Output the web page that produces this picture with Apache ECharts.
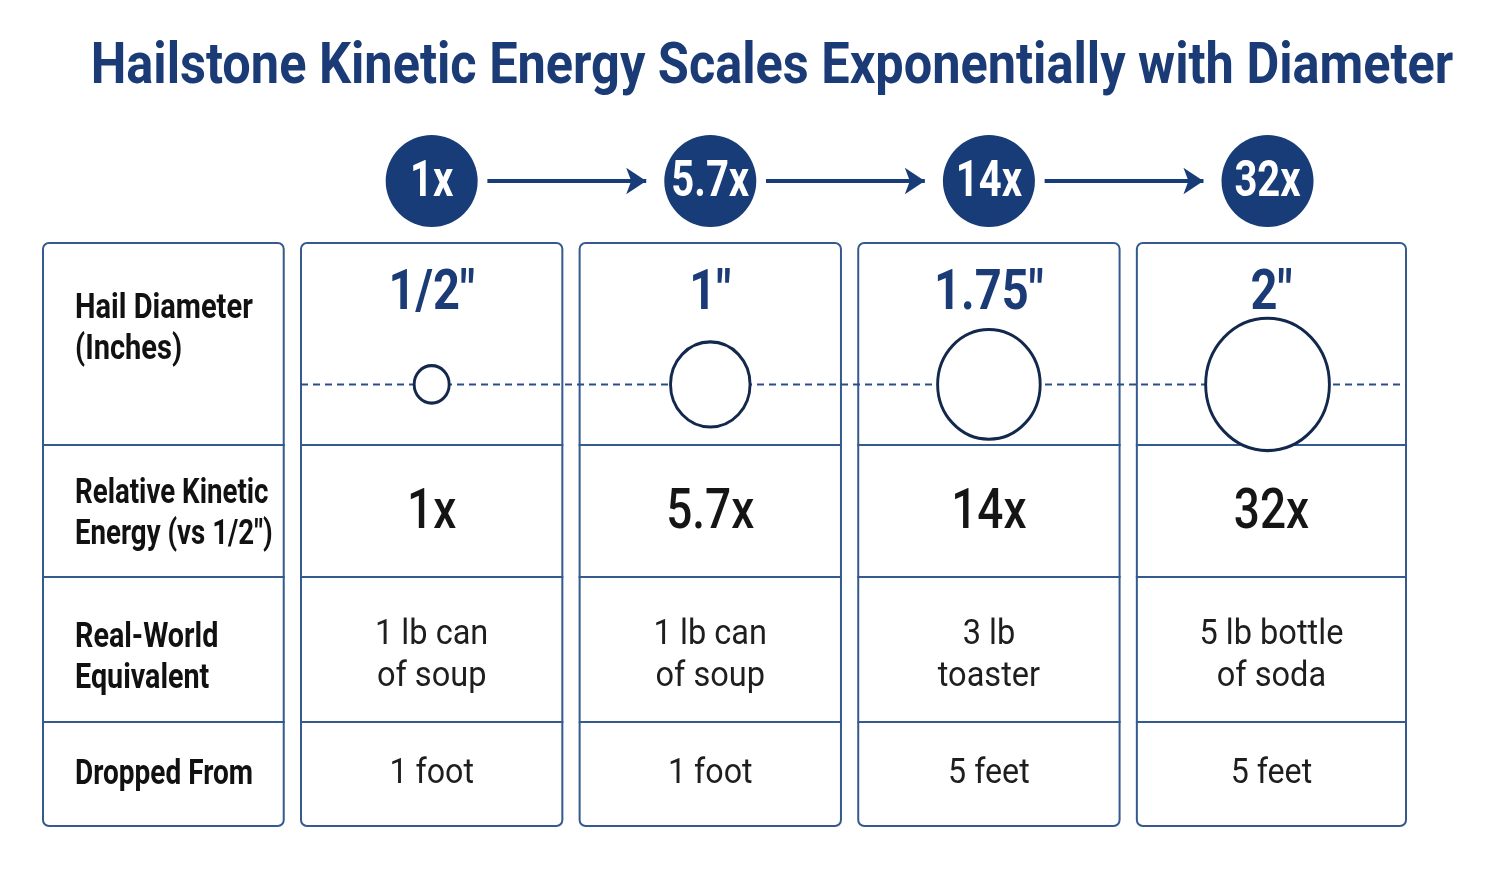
<!DOCTYPE html>
<html>
<head>
<meta charset="utf-8">
<title>Hailstone Kinetic Energy</title>
<script src="https://cdn.jsdelivr.net/npm/echarts@6/dist/echarts.min.js"></script>
<style>
  html, body { margin: 0; padding: 0; background: #fff; }
  #chart { width: 1494px; height: 871px; }
</style>
</head>
<body>
<div id="chart"></div>
<script>
// data
const diameters = [0.5, 1, 1.75, 2]
const diameterLabels = ['1/2″', '1″', '1.75″', '2″']
const energy = [1, 5.7, 14, 32]
const energyLabels = ['1x', '5.7x', '14x', '32x']
const equivalents = ['1 lb can\nof soup', '1 lb can\nof soup', '3 lb\ntoaster', '5 lb bottle\nof soda']
const dropHeights = ['1 foot', '1 foot', '5 feet', '5 feet']
const rowLabels = ['Hail Diameter\n(Inches)', 'Relative Kinetic\nEnergy (vs 1/2″)', 'Real-World\nEquivalent', 'Dropped From']

// layout
const FONT = 'Roboto, "Noto Sans", sans-serif'
const NAVY = '#1b3b76'
const BADGE = '#173c78'
const BORDER = '#345a8e'
const X_RANGE = [-0.395, 4.497]
const HALF_GAP = 0.031
const rowBoxes = [[243, 202], [445, 132], [577, 145], [722, 104]]
const cols = [0, 1, 2, 3, 4]

const grids = [{ left: 43, width: 1363, top: 135, height: 92 }]
rowBoxes.forEach(([top, height]) => grids.push({ left: 43, width: 1363, top, height }))

const xAxes = grids.map((g, i) => ({ type: 'value', gridIndex: i, min: X_RANGE[0], max: X_RANGE[1], show: false }))
const yAxes = grids.map((g, i) => ({ type: 'value', gridIndex: i, min: 0, max: 1, inverse: true, show: false }))

// text squeezed horizontally to mimic the condensed face of the original
const squeezedText = (text, x, y, font, fill, align, lineHeight, sx) => ({
  type: 'text',
  x, y,
  scaleX: sx,
  z2: 5,
  style: {
    text, x: 0, y: 0, font, fill, lineHeight,
    align, verticalAlign: 'middle',
    textAlign: align, textVerticalAlign: 'middle'
  }
})

// each row's cell texts, column 0 is the row label
const rowTexts = [
  [rowLabels[0], ...diameterLabels],
  [rowLabels[1], ...energyLabels],
  [rowLabels[2], ...equivalents],
  [rowLabels[3], ...dropHeights]
]
const valueFont = [
  { font: 'bold 56px ' + FONT, fill: NAVY, y: 0.255, lh: 56, sx: 0.84 },
  { font: '500 56px ' + FONT, fill: '#151515', y: 0.525, lh: 56, sx: 0.82 },
  { font: '35px ' + FONT, fill: '#1e1e1e', y: 0.548, lh: 42, sx: 0.93 },
  { font: '35px ' + FONT, fill: '#1e1e1e', y: 0.5, lh: 42, sx: 0.92 }
]
const labelY = [0.43, 0.53, 0.565, 0.51]
const labelSx = [0.83, 0.79, 0.82, 0.8]

const cellSeries = (row) => ({
  type: 'custom',
  xAxisIndex: row + 1,
  yAxisIndex: row + 1,
  z: 1,
  silent: true,
  data: cols.map(c => [c, 0.5]),
  encode: { x: 0, y: 1 },
  renderItem: (params, api) => {
    const cs = params.coordSys
    const c = api.value(0)
    const left = c === 0 ? cs.x : api.coord([c - 0.5 + HALF_GAP, 0])[0]
    const right = c === 4 ? cs.x + cs.width : api.coord([c + 0.5 - HALF_GAP, 0])[0]
    const r = row === 0 ? [6, 6, 0, 0] : row === 3 ? [0, 0, 6, 6] : 0
    const isLabel = c === 0
    const st = valueFont[row]
    const ty = cs.y + cs.height * (isLabel ? labelY[row] : st.y)
    return {
      type: 'group',
      children: [
        {
          type: 'rect',
          shape: { x: left, y: cs.y, width: right - left, height: cs.height, r },
          style: { fill: '#fff', stroke: BORDER, lineWidth: 2 }
        },
        isLabel
          ? squeezedText(rowTexts[row][c], left + 32, ty, 'bold 35px ' + FONT, '#111', 'left', 41, labelSx[row])
          : squeezedText(rowTexts[row][c], (left + right) / 2, ty, st.font, st.fill, 'center', st.lh, st.sx)
      ]
    }
  }
})

const option = {
  backgroundColor: '#ffffff',
  animation: false,
  graphic: [
    squeezedText('Hailstone Kinetic Energy Scales Exponentially with Diameter', 772, 68,
      'bold 58px ' + FONT, NAVY, 'center', 60, 0.87)
  ],
  grid: grids,
  xAxis: xAxes,
  yAxis: yAxes,
  series: [
    // multiplier badges
    {
      type: 'custom',
      xAxisIndex: 0,
      yAxisIndex: 0,
      z: 3,
      silent: true,
      data: energy.map((e, i) => [i + 1, 0.5]),
      encode: { x: 0, y: 1 },
      renderItem: (params, api) => {
        const [cx, cy] = api.coord([api.value(0), api.value(1)])
        return {
          type: 'group',
          children: [
            { type: 'circle', shape: { cx, cy, r: 46 }, style: { fill: BADGE } },
            squeezedText(energyLabels[params.dataIndex], cx, cy + 2, 'bold 50px ' + FONT, '#fff', 'center', 50, 0.8)
          ]
        }
      }
    },
    {
      type: 'lines',
      coordinateSystem: 'cartesian2d',
      xAxisIndex: 0,
      yAxisIndex: 0,
      z: 2,
      symbol: ['none', 'arrow'],
      symbolSize: 20,
      lineStyle: { color: BADGE, width: 4, opacity: 1 },
      data: energy.slice(1).map((e, i) => ({ coords: [[i + 1.2, 0.5], [i + 1.77, 0.5]] }))
    },
    ...[0, 1, 2, 3].map(cellSeries),
    // dashed center line through hailstones
    {
      type: 'line',
      xAxisIndex: 1,
      yAxisIndex: 1,
      z: 2,
      symbol: 'none',
      silent: true,
      lineStyle: { color: '#2a4f86', width: 2, type: [7, 5] },
      data: [[0.5 + HALF_GAP, 0.7], [X_RANGE[1], 0.7]]
    },
    // hailstone outlines, size grows with log of energy
    {
      type: 'scatter',
      xAxisIndex: 1,
      yAxisIndex: 1,
      z: 4,
      silent: true,
      symbolSize: (v, p) => {
        const s = 35 + 25.6 * Math.log(energy[p.dataIndex])
        return [s, s * 1.07]
      },
      itemStyle: { color: '#fff', borderColor: '#13284d', borderWidth: 3, opacity: 1 },
      data: diameters.map((d, i) => [i + 1, 0.7])
    }
  ]
}

const chart = echarts.init(document.getElementById('chart'))
chart.setOption(option)
window.addEventListener('resize', () => chart.resize())
</script>
</body>
</html>
